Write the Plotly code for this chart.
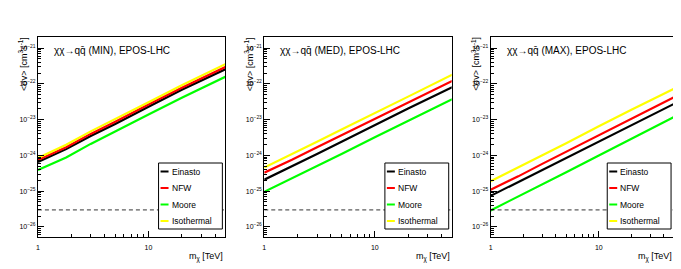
import plotly.graph_objects as go

# ---------------- data ----------------
masses = [1, 1.8, 3, 5, 10, 20, 50]  # m_chi [TeV]
profiles = ["Einasto", "NFW", "Moore", "Isothermal"]
panel_titles = ["MIN", "MED", "MAX"]

min_einasto = [6.5e-25, 1.5e-24, 3.5e-24, 7.6e-24, 2.3e-23, 6.8e-23, 2.6e-22]
min_nfw = [7.4e-25, 1.7e-24, 4.0e-24, 8.7e-24, 2.65e-23, 7.8e-23, 3.0e-22]
min_moore = [3.9e-25, 8.8e-25, 2.1e-24, 4.6e-24, 1.4e-23, 4.1e-23, 1.6e-22]
min_iso = [8.5e-25, 2.0e-24, 4.7e-24, 1.02e-23, 3.05e-23, 9.2e-23, 3.6e-22]

med_einasto = [2.1e-25, 5.0e-25, 1.1e-24, 2.4e-24, 7.1e-24, 2.05e-23, 8.1e-23]
med_nfw = [3.3e-25, 7.7e-25, 1.7e-24, 3.7e-24, 1.05e-23, 3.0e-23, 1.2e-22]
med_moore = [9.6e-26, 2.3e-25, 5.0e-25, 1.1e-24, 3.2e-24, 9.2e-24, 3.7e-23]
med_iso = [4.6e-25, 1.1e-24, 2.4e-24, 5.3e-24, 1.5e-23, 4.4e-23, 1.8e-22]

max_einasto = [7.4e-26, 1.8e-25, 3.9e-25, 8.5e-25, 2.5e-24, 7.2e-24, 2.8e-23]
max_nfw = [1.1e-25, 2.6e-25, 5.8e-25, 1.27e-24, 3.7e-24, 1.08e-23, 4.3e-23]
max_moore = [2.9e-26, 7.0e-26, 1.55e-25, 3.4e-25, 1.0e-24, 2.9e-24, 1.2e-23]
max_iso = [1.9e-25, 4.6e-25, 1.0e-24, 2.2e-24, 6.5e-24, 1.9e-23, 7.4e-23]

thermal_xs = 3e-26
thermal_x = [1, 50]

x_ticks = [1, 10]
x_ticklabels = ["1", "10"]
y_ticks = [1e-26, 1e-25, 1e-24, 1e-23, 1e-22, 1e-21]
y_ticklabels = ["10<sup>−26</sup>", "10<sup>−25</sup>", "10<sup>−24</sup>",
                "10<sup>−23</sup>", "10<sup>−22</sup>", "10<sup>−21</sup>"]

panels = [
    [min_einasto, min_nfw, min_moore, min_iso],
    [med_einasto, med_nfw, med_moore, med_iso],
    [max_einasto, max_nfw, max_moore, max_iso],
]

# ---------------- style ----------------
colors = ["#000000", "#ff0000", "#00ff00", "#ffff00"]
W, H = 681, 269
FONT = "Liberation Sans, Arial, Helvetica, sans-serif"
frames_px = [(28, 216), (255, 443), (482, 666)]
top_px, bot_px = 29, 229

def px(x):
    return x / W

def py(y):
    return 1 - y / H

fig = go.Figure()
shapes = []
annotations = []

x_minor = [2, 3, 4, 5, 6, 7, 8, 9, 20, 30, 40]
y_minor = [k * 10.0 ** e for e in range(-27, -20) for k in range(2, 10)]

for i, (series, ptitle) in enumerate(zip(panels, panel_titles)):
    n = "" if i == 0 else str(i + 1)
    xa, ya = "x" + n, "y" + n
    l, r = frames_px[i]
    for name, vals, col in zip(profiles, series, colors):
        fig.add_trace(go.Scatter(x=masses, y=vals, mode="lines", name=name,
                                 line=dict(color=col, width=2.2),
                                 xaxis=xa, yaxis=ya, showlegend=False))
    fig.add_trace(go.Scatter(x=thermal_x, y=[thermal_xs] * len(thermal_x), mode="lines",
                             line=dict(color="#333333", width=1, dash="4px,3px"),
                             xaxis=xa, yaxis=ya, showlegend=False))

    common = dict(showline=True, linecolor="black", linewidth=1, mirror=True,
                  ticks="inside", ticklen=6, tickcolor="black", showgrid=False,
                  zeroline=False, tickfont=dict(family=FONT, size=7, color="black"))
    fig.update_layout(**{
        "xaxis" + n: dict(type="log", range=[0, 1.695], domain=[px(l), px(r)],
                          tickmode="array", tickvals=x_ticks, ticktext=x_ticklabels,
                          anchor=ya, ticklabelstandoff=4,
                          minor=dict(tickmode="array", tickvals=x_minor, ticks="inside",
                                     ticklen=3, tickcolor="black", showgrid=False),
                          **common),
        "yaxis" + n: dict(type="log", range=[-26.28, -20.69],
                          domain=[py(bot_px), py(top_px)],
                          tickmode="array", tickvals=y_ticks, ticktext=y_ticklabels,
                          anchor=xa,
                          minor=dict(tickmode="array", tickvals=y_minor, ticks="inside",
                                     ticklen=3, tickcolor="black", showgrid=False),
                          **common),
    })

    # panel title
    annotations.append(dict(text="χχ→qq̄ (" + ptitle + "), EPOS-LHC",
                            x=px(l + 14), y=py(42), xref="paper", yref="paper",
                            xanchor="left", yanchor="middle", showarrow=False,
                            font=dict(family=FONT, size=10, color="black")))
    # x title
    annotations.append(dict(text="m<sub>χ</sub> [TeV]", x=px(r), y=py(249),
                            xref="paper", yref="paper", xanchor="right",
                            yanchor="middle", showarrow=False,
                            font=dict(family=FONT, size=9, color="black")))
    # y title
    annotations.append(dict(text="&lt;σv&gt; [cm<sup>3</sup>s<sup>-1</sup>]",
                            x=px(l - 15), y=py(top_px - 2), xref="paper", yref="paper",
                            xanchor="center", yanchor="top", textangle=-90,
                            showarrow=False,
                            font=dict(family=FONT, size=9, color="black")))

    # legend box
    lx0, lx1 = r - 67, r - 3
    ly0, ly1 = 155, 221
    shapes.append(dict(type="rect", xref="paper", yref="paper",
                       x0=px(lx0), x1=px(lx1), y0=py(ly1), y1=py(ly0),
                       line=dict(color="black", width=1), fillcolor="white",
                       layer="above"))
    for k, (name, col) in enumerate(zip(profiles, colors)):
        yy = 163.5 + k * 16.5
        shapes.append(dict(type="line", xref="paper", yref="paper",
                           x0=px(lx0 + 2), x1=px(lx0 + 10), y0=py(yy), y1=py(yy),
                           line=dict(color=col, width=2), layer="above"))
        annotations.append(dict(text=name, x=px(lx0 + 11), y=py(yy),
                                xref="paper", yref="paper", xanchor="left",
                                yanchor="middle", showarrow=False,
                                font=dict(family=FONT, size=8.5, color="black")))

fig.update_layout(width=W, height=H, margin=dict(l=0, r=0, t=0, b=0),
                  paper_bgcolor="white", plot_bgcolor="white",
                  shapes=shapes, annotations=annotations, showlegend=False)

fig.write_html("out.html")
